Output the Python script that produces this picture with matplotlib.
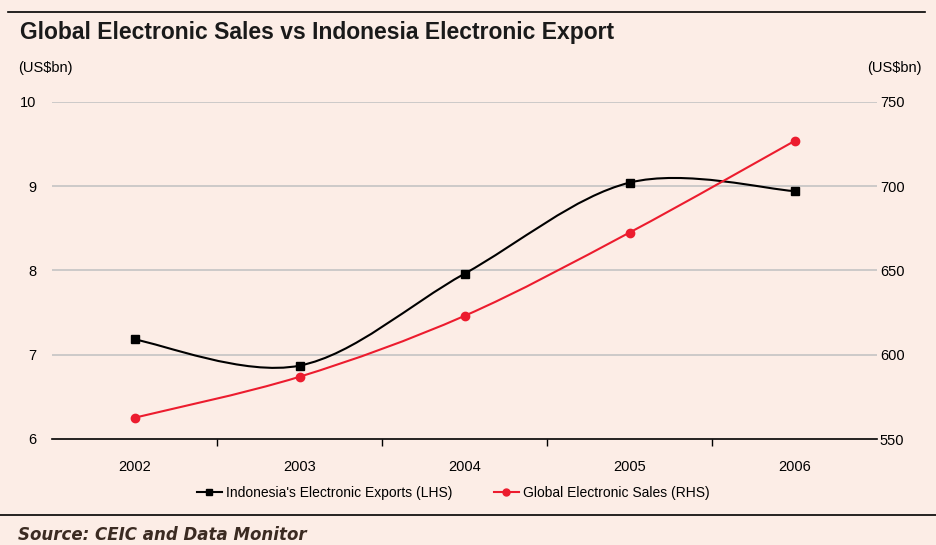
import numpy as np
import matplotlib
matplotlib.use("Agg")
import matplotlib.pyplot as plt
from matplotlib.path import Path
from matplotlib.patches import PathPatch
from matplotlib.lines import Line2D

years = ["2002", "2003", "2004", "2005", "2006"]
indonesia_exports = [7.18, 6.87, 7.96, 9.04, 8.94]   # LHS, US$bn
global_sales = [562.6, 586.9, 623.0, 672.4, 726.7]    # RHS, US$bn
left_ticks = [6, 7, 8, 9, 10]
right_ticks = [550, 600, 650, 700, 750]

BG = "#FCEDE6"
BLACK = "#000000"
RED = "#EC1C2E"

plt.rcParams["font.family"] = ["Liberation Sans", "DejaVu Sans"]

fig = plt.figure(figsize=(9.36, 5.45), dpi=100, facecolor=BG)
ax = fig.add_axes([52 / 936, 1 - 439 / 545, (877 - 52) / 936, (439 - 101.7) / 545])
ax.set_facecolor(BG)
ax2 = ax.twinx()


def smooth_path(xs, ys):
    """Excel-style smoothed line as cubic Bezier segments through the data points."""
    xs = np.asarray(xs, float)
    ys = np.asarray(ys, float)
    n = len(xs)
    verts = [(xs[0], ys[0])]
    codes = [Path.MOVETO]
    for i in range(n - 1):
        p0 = (xs[max(i - 1, 0)], ys[max(i - 1, 0)])
        p1 = (xs[i], ys[i])
        p2 = (xs[i + 1], ys[i + 1])
        p3 = (xs[min(i + 2, n - 1)], ys[min(i + 2, n - 1)])
        c1 = (p1[0] + (p2[0] - p0[0]) / 6, p1[1] + (p2[1] - p0[1]) / 6)
        c2 = (p2[0] - (p3[0] - p1[0]) / 6, p2[1] - (p3[1] - p1[1]) / 6)
        verts += [c1, c2, p2]
        codes += [Path.CURVE4] * 3
    return Path(verts, codes)


x = np.arange(len(years))

ax.set_xlim(-0.5, len(years) - 0.5)
ax.set_ylim(left_ticks[0], left_ticks[-1])
ax2.set_ylim(right_ticks[0], right_ticks[-1])

# gridlines
for v in left_ticks[1:]:
    ax.axhline(v, color="#C4C4C4", lw=1.2, zorder=0)

ax.add_patch(PathPatch(smooth_path(x, indonesia_exports), fill=False, ec=BLACK, lw=1.5, zorder=3))
ax.plot(x, indonesia_exports, ls="none", marker="s", ms=6, color=BLACK, zorder=4)

ax2.add_patch(PathPatch(smooth_path(x, global_sales), fill=False, ec=RED, lw=1.5, zorder=3))
ax2.plot(x, global_sales, ls="none", marker="o", ms=6, color=RED, zorder=4)

# axes styling
for a in (ax, ax2):
    for s in ("top", "left", "right", "bottom"):
        a.spines[s].set_visible(False)
ax.spines["bottom"].set_visible(True)
ax.spines["bottom"].set_color(BLACK)
ax.spines["bottom"].set_linewidth(1.2)

ax.set_xticks(x)
ax.set_xticklabels(years, fontsize=10.5)
ax.set_xticks(np.arange(0.5, len(years) - 1), minor=True)
ax.tick_params(axis="x", which="major", length=0, pad=15)
ax.tick_params(axis="x", which="minor", length=5, width=1, color=BLACK, direction="out")

ax.set_yticks(left_ticks)
ax.set_yticklabels([str(v) for v in left_ticks], fontsize=10.5)
ax.tick_params(axis="y", length=0, pad=11)
ax2.set_yticks(right_ticks)
ax2.set_yticklabels([str(v) for v in right_ticks], fontsize=10.5)
ax2.tick_params(axis="y", length=0, pad=2)

# title and units
fig.text(20 / 936, 1 - 33 / 545, "Global Electronic Sales vs Indonesia Electronic Export",
         fontsize=16.5, fontweight="bold", color="#1a1a1a", ha="left", va="center")
fig.text(18 / 936, 1 - 68 / 545, "(US$bn)", fontsize=10.5, ha="left", va="center")
fig.text(922 / 936, 1 - 68 / 545, "(US$bn)", fontsize=10.5, ha="right", va="center")

# frame lines
fig.add_artist(Line2D([8 / 936, 925 / 936], [1 - 12 / 545, 1 - 12 / 545], color=BLACK, lw=1.2))
fig.add_artist(Line2D([0, 936 / 936], [1 - 515 / 545, 1 - 515 / 545], color=BLACK, lw=1.2))

# legend
handles = [
    Line2D([], [], color=BLACK, lw=1.5, marker="s", ms=5),
    Line2D([], [], color=RED, lw=1.5, marker="o", ms=5),
]
fig.legend(handles, ["Indonesia's Electronic Exports (LHS)", "Global Electronic Sales (RHS)"],
           loc="center", bbox_to_anchor=(453 / 936, 1 - 493 / 545), ncol=2, frameon=False,
           fontsize=10, handlelength=1.8, handletextpad=0.3, columnspacing=3.0)

fig.text(18 / 936, 1 - 535 / 545, "Source: CEIC and Data Monitor", fontsize=12,
         family=["DejaVu Sans"], style="italic", fontweight="bold", color="#3b2b22",
         ha="left", va="center")

fig.savefig("out.png", dpi=100, facecolor=BG)
